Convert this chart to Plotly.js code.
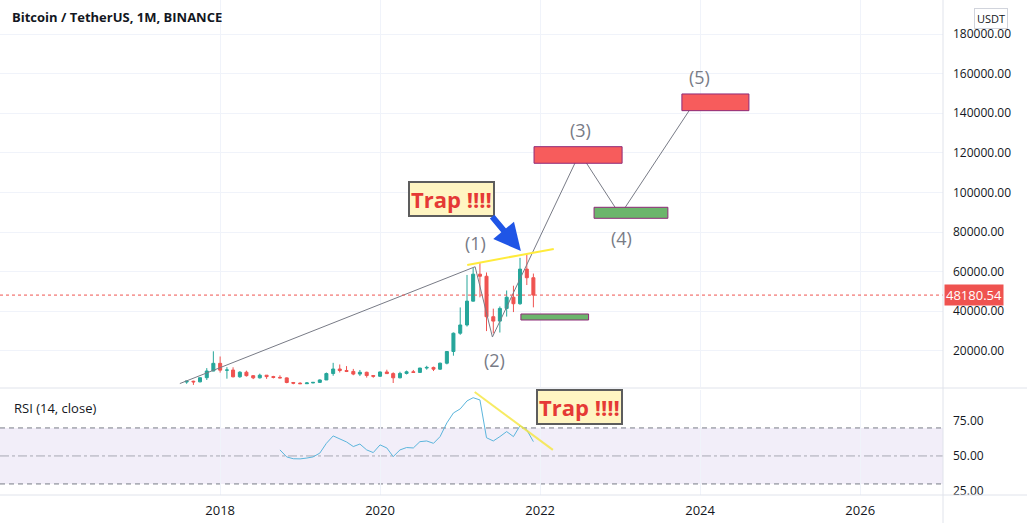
<!DOCTYPE html>
<html><head><meta charset="utf-8">
<script src="https://cdn.plot.ly/plotly-3.0.1.min.js"></script>
<style>html,body{margin:0;padding:0;background:#fff;}#chart{width:1027px;height:523px;}</style>
</head><body><div id="chart"></div>
<script>
// ---- Data ----
const months = ['2017-08-01','2017-09-01','2017-10-01','2017-11-01','2017-12-01',
'2018-01-01','2018-02-01','2018-03-01','2018-04-01','2018-05-01','2018-06-01','2018-07-01','2018-08-01','2018-09-01','2018-10-01','2018-11-01','2018-12-01',
'2019-01-01','2019-02-01','2019-03-01','2019-04-01','2019-05-01','2019-06-01','2019-07-01','2019-08-01','2019-09-01','2019-10-01','2019-11-01','2019-12-01',
'2020-01-01','2020-02-01','2020-03-01','2020-04-01','2020-05-01','2020-06-01','2020-07-01','2020-08-01','2020-09-01','2020-10-01','2020-11-01','2020-12-01',
'2021-01-01','2021-02-01','2021-03-01','2021-04-01','2021-05-01','2021-06-01','2021-07-01','2021-08-01','2021-09-01','2021-10-01','2021-11-01','2021-12-01'];
const openP  = [4261,4689,4378,6463,9837, 13716,10285,10325,6922,9246,7485,6391,7735,7011,6626,6369,4041, 3702,3434,3814,4102,5321,8555,10854,10085,9630,8299,9199,7547, 7195,9351,8523,6412,8620,9448,9138,11335,11649,10776,13791,19695, 28923,33092,45134,58739,57697,37253,35045,41461,47100,43820,61300,56950];
const highP  = [4745,4939,6447,11300,19798, 17176,11786,11710,9765,10020,7786,8507,7750,7410,7680,6615,4312, 4140,4198,4140,5600,9074,13970,13147,12325,10905,10370,9505,7750, 9578,10500,9188,9460,10067,10380,11444,12468,12050,14100,19863,29300, 41950,58352,61844,64854,59600,41330,42448,50500,52920,67000,69000,59053];
const lowP   = [3400,2817,4110,5325,9722, 9035,5968,6600,6430,7032,5750,6070,5880,6100,6200,3652,3156, 3349,3400,3689,4067,5316,7440,9111,9320,7710,7300,6515,6435, 6871,8445,3782,6150,8117,8833,8893,10518,9825,10375,13195,17572, 28130,32296,44950,47044,30000,28805,29278,37332,39600,43283,53256,42000];
const closeP = [4724,4378,6463,9838,13716, 10285,10326,6923,9246,7485,6391,7730,7011,6626,6371,4041,3702, 3434,3813,4103,5321,8555,10854,10085,9630,8293,9199,7546,7195, 9351,8523,6410,8620,9448,9138,11335,11649,10776,13791,19695,28923, 33092,45135,58740,57694,37253,35045,41461,47100,43824,61300,56950,48180.54];

const rsiMonths = ['2018-10-01','2018-11-01','2018-12-01',
'2019-01-01','2019-02-01','2019-03-01','2019-04-01','2019-05-01','2019-06-01','2019-07-01','2019-08-01','2019-09-01','2019-10-01','2019-11-01','2019-12-01',
'2020-01-01','2020-02-01','2020-03-01','2020-04-01','2020-05-01','2020-06-01','2020-07-01','2020-08-01','2020-09-01','2020-10-01','2020-11-01','2020-12-01',
'2021-01-01','2021-02-01','2021-03-01','2021-04-01','2021-05-01','2021-06-01','2021-07-01','2021-08-01','2021-09-01','2021-10-01','2021-11-01','2021-12-01'];
const rsiValues = [54.3,49.3,48.0, 47.9,48.5,49.3,52.0,59.0,64.3,62.0,60.0,56.7,58.5,54.3,52.4, 57.9,55.7,49.5,54.3,56.0,55.7,60.2,60.7,59.0,63.8,73.6,80.7, 83.6,89.3,91.6,90.0,63.0,60.7,63.8,67.4,63.8,71.6,68.6,60.2];

// Elliott wave path drawn on chart
const waveDates  = ['2017-07-01','2021-03-10','2021-05-28','2022-07-01','2023-01-01','2023-12-22'];
const wavePrices = [3500,62500,27000,120000,88600,148000];
const waveLabels = ['(1)','(2)','(3)','(4)','(5)'];
const waveLabelDates  = ['2021-03-10','2021-06-05','2022-07-05','2023-01-05','2023-12-28'];
const waveLabelPrices = [74500,15500,131500,76800,158200];

// Target zones [x0, x1, y0, y1]
const zoneRed3   = ['2021-12-04','2023-01-10',114750,123130];
const zoneGreen4 = ['2022-09-04','2023-08-07',86960,92520];
const zoneRed5   = ['2023-10-10','2024-08-11',141310,149750];
const zoneGreen2 = ['2021-10-05','2022-08-10',35600,38640];

// Trend lines
const trapLineDates  = ['2021-02-02','2022-03-04'];
const trapLinePrices = [63400,71500];
const rsiTrapDates   = ['2021-03-08','2022-02-28'];
const rsiTrapValues  = [95.7,54.3];

const lastPrice = 48180.54;
const priceTicks = [20000,40000,60000,80000,100000,120000,140000,160000,180000];
const rsiTicks = [25,50,75];
const yearTicks = ['2018-01-01','2020-01-01','2022-01-01','2024-01-01','2026-01-01'];
const yearLabels = ['2018','2020','2022','2024','2026'];

// ---- Layout geometry ----
const W = 1027, H = 523;
const plotRight = 943 / W;
const px = v => v / W;
const py = v => 1 - v / H;
const FONT = 'Open Sans, Noto Sans, sans-serif';

const traces = [
  {type:'candlestick', x:months, open:openP, high:highP, low:lowP, close:closeP,
   xaxis:'x', yaxis:'y',
   increasing:{line:{color:'#26a69a',width:1}, fillcolor:'#26a69a'},
   decreasing:{line:{color:'#ef5350',width:1}, fillcolor:'#ef5350'},
   whiskerwidth:0, hoverinfo:'skip', showlegend:false},
  {type:'scatter', mode:'lines', x:waveDates, y:wavePrices, xaxis:'x', yaxis:'y',
   line:{color:'#787b86', width:1}, hoverinfo:'skip', showlegend:false},
  {type:'scatter', mode:'lines', x:trapLineDates, y:trapLinePrices, xaxis:'x', yaxis:'y',
   line:{color:'#ffeb3b', width:2}, hoverinfo:'skip', showlegend:false},
  {type:'scatter', mode:'lines', x:rsiMonths, y:rsiValues, xaxis:'x2', yaxis:'y2',
   line:{color:'#5bb5dc', width:1}, hoverinfo:'skip', showlegend:false},
  {type:'scatter', mode:'lines', x:rsiTrapDates, y:rsiTrapValues, xaxis:'x2', yaxis:'y2',
   line:{color:'#f5e63c', width:2}, opacity:0.8, hoverinfo:'skip', showlegend:false}
];

function zone(z, fill){
  return {type:'rect', xref:'x', yref:'y', x0:z[0], x1:z[1], y0:z[2], y1:z[3],
    fillcolor:fill, line:{color:'#8e2a78', width:1}, layer:'above'};
}

const shapes = [
  // RSI band
  {type:'rect', xref:'paper', yref:'y2', x0:0, x1:plotRight, y0:30, y1:70,
   fillcolor:'rgba(126,87,194,0.1)', line:{width:0}, layer:'below'},
  {type:'line', xref:'paper', yref:'y2', x0:0, x1:plotRight, y0:70, y1:70, line:{color:'#787b86', width:1, dash:'5px,4px'}, layer:'below'},
  {type:'line', xref:'paper', yref:'y2', x0:0, x1:plotRight, y0:30, y1:30, line:{color:'#787b86', width:1, dash:'5px,4px'}, layer:'below'},
  {type:'line', xref:'paper', yref:'y2', x0:0, x1:plotRight, y0:50, y1:50, line:{color:'rgba(120,123,134,0.6)', width:1, dash:'dashdot'}, layer:'below'},
  // last price line
  {type:'line', xref:'paper', yref:'y', x0:0, x1:plotRight, y0:lastPrice, y1:lastPrice, line:{color:'#ef5350', width:1, dash:'dot'}},
  // separators
  {type:'line', xref:'paper', yref:'paper', x0:0, x1:1, y0:py(388), y1:py(388), line:{color:'#e0e3eb', width:1}},
  {type:'line', xref:'paper', yref:'paper', x0:0, x1:1, y0:py(495), y1:py(495), line:{color:'#e0e3eb', width:1}},
  {type:'line', xref:'paper', yref:'paper', x0:plotRight, x1:plotRight, y0:0, y1:1, line:{color:'#e0e3eb', width:1}},
  zone(zoneRed3, '#f75c5c'),
  zone(zoneGreen4, '#6cb56c'),
  zone(zoneRed5, '#f75c5c'),
  zone(zoneGreen2, '#6cb56c')
];

const annotations = [
  {xref:'paper', yref:'paper', x:px(10), y:py(17), xanchor:'left', yanchor:'middle', showarrow:false,
   text:'<b>Bitcoin / TetherUS, 1M, BINANCE</b>', font:{family:FONT, size:13, color:'#131722'}},
  {xref:'paper', yref:'paper', x:px(12), y:py(408), xanchor:'left', yanchor:'middle', showarrow:false,
   text:'RSI (14, close)', font:{family:FONT, size:13, color:'#131722'}},
  {xref:'paper', yref:'paper', x:px(991), y:py(18), xanchor:'center', yanchor:'middle', showarrow:false,
   text:'USDT', font:{family:FONT, size:11, color:'#131722'}, bordercolor:'#d1d4dc', borderwidth:1, borderpad:2, bgcolor:'#ffffff'},
  {xref:'paper', yref:'y', x:px(944), y:lastPrice, xanchor:'left', yanchor:'middle', showarrow:false,
   text:'48180.54', font:{family:FONT, size:13, color:'#ffffff'}, bgcolor:'#ef5350', borderpad:1},
  {xref:'x', yref:'y', x:'2020-11-24', y:96700, showarrow:false, text:'<b>Trap !!!!</b>',
   font:{family:FONT, size:22, color:'#e53935'}, bgcolor:'#fff5c2', bordercolor:'#5d5d5d', borderwidth:2, borderpad:1},
  {xref:'x2', yref:'y2', x:'2022-06-28', y:85, showarrow:false, text:'<b>Trap !!!!</b>',
   font:{family:FONT, size:22, color:'#e53935'}, bgcolor:'#fff5c2', bordercolor:'#5d5d5d', borderwidth:2, borderpad:1},
  {xref:'x', yref:'y', x:'2021-10-05', y:70400, ax:-30, ay:-36, text:'', showarrow:true,
   arrowcolor:'#1f55e6', arrowwidth:6, arrowhead:2, arrowsize:0.9, standoff:0}
];
for (let i = 0; i < waveLabels.length; i++) {
  annotations.push({xref:'x', yref:'y', x:waveLabelDates[i], y:waveLabelPrices[i], showarrow:false,
    text:waveLabels[i], font:{family:FONT, size:18, color:'#787b86'}});
}

const layout = {
  width:W, height:H, margin:{l:0,r:0,t:0,b:0},
  paper_bgcolor:'#ffffff', plot_bgcolor:'#ffffff',
  font:{family:FONT, color:'#131722'},
  showlegend:false,
  xaxis:{domain:[0,plotRight], anchor:'y', type:'date', range:['2015-04-02','2027-01-14'],
    rangeslider:{visible:false}, showticklabels:false, tickvals:yearTicks,
    showgrid:true, gridcolor:'#f0f3fa', zeroline:false, showline:false, fixedrange:true},
  xaxis2:{domain:[0,plotRight], anchor:'y2', type:'date', matches:'x', range:['2015-04-02','2027-01-14'],
    tickvals:yearTicks, ticktext:yearLabels, ticks:'', ticklabelstandoff:6,
    tickfont:{family:FONT, size:13, color:'#131722'},
    showgrid:true, gridcolor:'#f0f3fa', zeroline:false, showline:false},
  yaxis:{domain:[py(387), 1], anchor:'x', side:'right', range:[1768,197200],
    tickvals:priceTicks, tickformat:'.2f', ticks:'', ticklabelstandoff:9,
    tickfont:{family:FONT, size:12, color:'#131722'},
    showgrid:true, gridcolor:'#f0f3fa', zeroline:false, showline:false},
  yaxis2:{domain:[py(495), py(390)], anchor:'x2', side:'right', range:[22.1,97.1],
    tickvals:rsiTicks, tickformat:'.2f', ticks:'', ticklabelstandoff:9,
    tickfont:{family:FONT, size:12, color:'#131722'},
    showgrid:false, zeroline:false, showline:false},
  shapes:shapes, annotations:annotations
};

Plotly.newPlot('chart', traces, layout, {staticPlot:true, displayModeBar:false});
</script></body></html>
